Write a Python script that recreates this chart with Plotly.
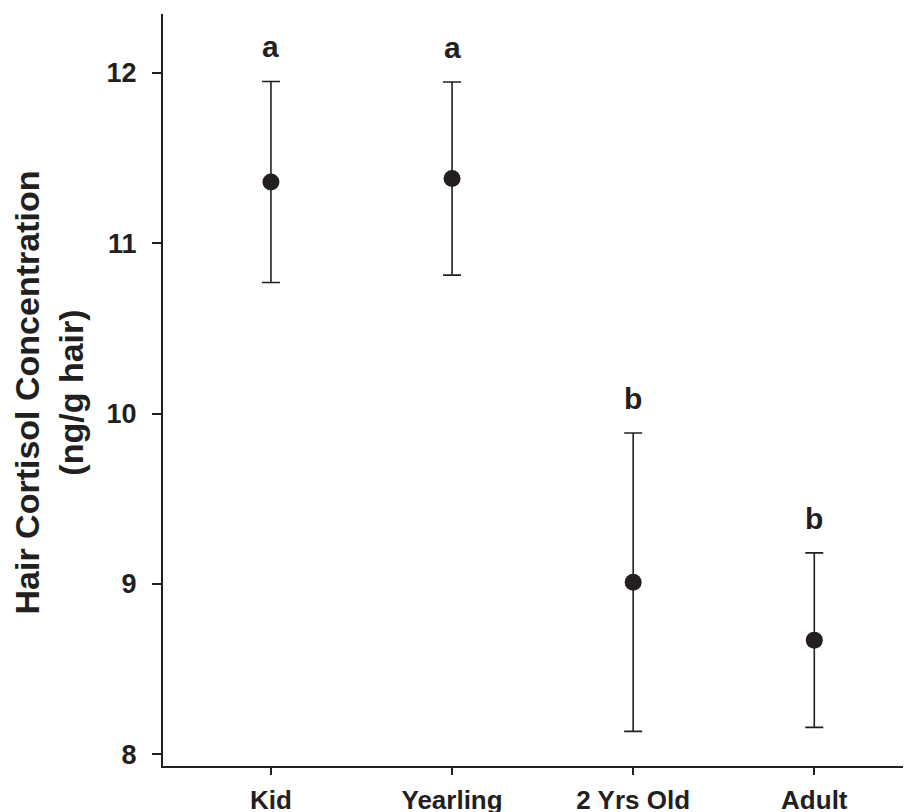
import plotly.graph_objects as go

categories = ["Kid", "Yearling", "2 Yrs Old", "Adult"]
means = [11.36, 11.38, 9.01, 8.67]
errors = [0.59, 0.567, 0.876, 0.512]
letters = ["a", "a", "b", "b"]
y_ticks = [8, 9, 10, 11, 12]

FONT = "Liberation Sans, Arial, Helvetica, sans-serif"
INK = "#231f20"

# page body has an 8px margin; compensate so the plot sits where the reference has it
OFF = 8
W, H = 911 - OFF, 812 - OFF
L, T, B = 163 - OFF, 14 - OFF, 46
PW, PH = W - L, H - T - B

fig = go.Figure()
fig.add_trace(go.Scatter(
    x=categories, y=means, mode="markers",
    marker=dict(size=17, color=INK),
    error_y=dict(type="data", array=errors, visible=True,
                 color=INK, thickness=1.6, width=9),
    showlegend=False, hoverinfo="skip",
))

for c, m, e, l in zip(categories, means, errors, letters):
    fig.add_annotation(x=c, y=m + e + 0.095, text=l, showarrow=False,
                       xanchor="center", yanchor="bottom",
                       font=dict(family=FONT, size=30, color=INK, weight="bold"))

fig.add_annotation(xref="paper", yref="paper",
                   x=(49 - 163) / PW, y=(766 - 392.5) / PH,
                   xanchor="center", yanchor="middle", textangle=-90,
                   text="Hair Cortisol Concentration<br>(ng/g hair)",
                   showarrow=False,
                   font=dict(family=FONT, size=34, color=INK, weight="bold"))

fig.update_layout(
    width=W, height=H,
    margin=dict(l=L, r=0, t=T, b=B, autoexpand=False),
    paper_bgcolor="white", plot_bgcolor="white",
    font=dict(family=FONT, color=INK),
    xaxis=dict(type="category", categoryorder="array", categoryarray=categories,
               range=[-0.596, 3.534], showgrid=False, zeroline=False,
               automargin=False,
               showline=True, linecolor=INK, linewidth=2,
               ticks="outside", ticklen=7, tickwidth=1.6, tickcolor=INK,
               ticklabelstandoff=3,
               tickfont=dict(family=FONT, size=26, color=INK, weight="bold")),
    yaxis=dict(range=[7.931, 12.346], tickvals=y_ticks,
               showgrid=False, zeroline=False, automargin=False,
               showline=True, linecolor=INK, linewidth=2,
               ticks="outside", ticklen=9, tickwidth=1.6, tickcolor=INK,
               ticklabelstandoff=10,
               tickfont=dict(family=FONT, size=27, color=INK, weight="bold")),
)

fig.write_html("out.html")
